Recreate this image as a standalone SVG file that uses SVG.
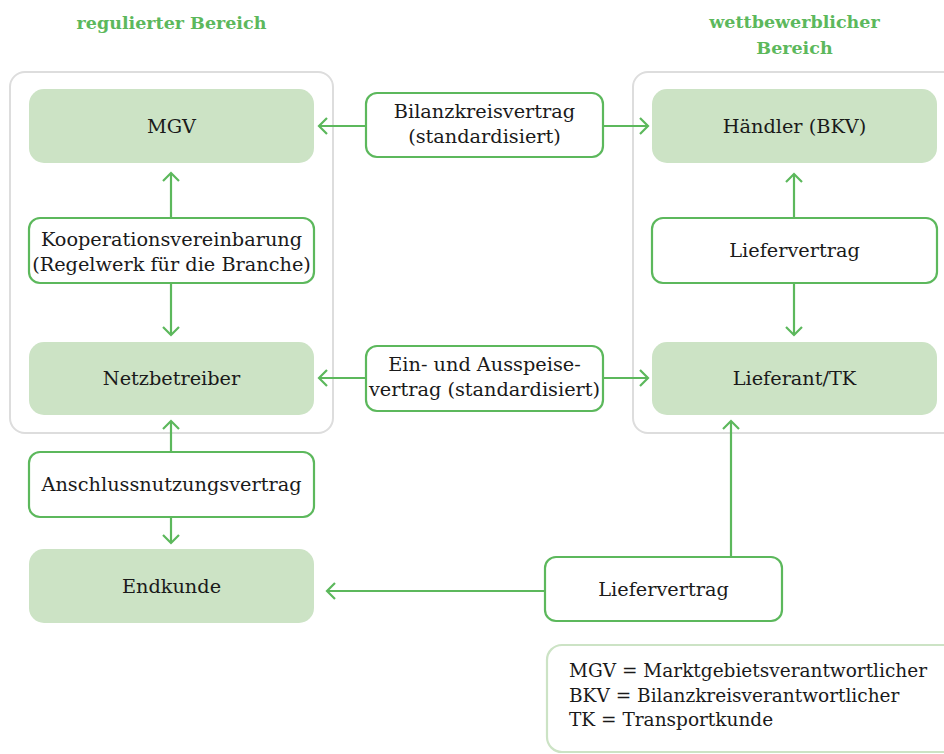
<svg xmlns="http://www.w3.org/2000/svg" width="944" height="754" viewBox="0 0 944 754">
<style>
text{font-family:"DejaVu Serif","Liberation Serif",serif;fill:#1a1a1a;font-size:19.3px;text-anchor:middle}
.title{font-weight:bold;fill:#5cb85c;font-size:17.5px}
.legend{text-anchor:start;font-size:18.5px}
.group{fill:#fff;stroke:#dddddd;stroke-width:2}
.node{fill:#cce3c5;stroke:none}
.contract{fill:#fff;stroke:#5cb85c;stroke-width:2.2}
.conn{fill:none;stroke:#5cb85c;stroke-width:2.2}
.leg{fill:#fff;stroke:#cce3c5;stroke-width:2.2}
</style>
<defs>
<marker id="ah" markerUnits="userSpaceOnUse" viewBox="-11 -11 14 22" refX="0" refY="0" markerWidth="14" markerHeight="22" orient="auto" overflow="visible">
<path d="M-8,-8 L0,0 L-8,8" fill="none" stroke="#5cb85c" stroke-width="2.2"/>
</marker>
</defs>
<rect width="944" height="754" fill="#fff"/>
<text class="title" x="171.5" y="29">regulierter Bereich</text>
<text class="title" x="794.5" y="28">wettbewerblicher</text>
<text class="title" x="794.5" y="54">Bereich</text>
<rect class="group" x="10" y="72" width="323" height="361" rx="15"/>
<rect class="group" x="633" y="72" width="330" height="361" rx="15"/>
<g id="connectors">
<line class="conn" x1="366" y1="126" x2="319" y2="126" marker-end="url(#ah)"/>
<line class="conn" x1="603" y1="126" x2="648" y2="126" marker-end="url(#ah)"/>
<line class="conn" x1="171" y1="218" x2="171" y2="173" marker-end="url(#ah)"/>
<line class="conn" x1="171" y1="283" x2="171" y2="335" marker-end="url(#ah)"/>
<line class="conn" x1="794" y1="218" x2="794" y2="174" marker-end="url(#ah)"/>
<line class="conn" x1="794" y1="283" x2="794" y2="335" marker-end="url(#ah)"/>
<line class="conn" x1="366" y1="378" x2="319" y2="378" marker-end="url(#ah)"/>
<line class="conn" x1="603" y1="378" x2="648" y2="378" marker-end="url(#ah)"/>
<line class="conn" x1="171" y1="452" x2="171" y2="421" marker-end="url(#ah)"/>
<line class="conn" x1="171" y1="517" x2="171" y2="543" marker-end="url(#ah)"/>
<line class="conn" x1="731" y1="557" x2="731" y2="421" marker-end="url(#ah)"/>
<line class="conn" x1="545" y1="591" x2="327" y2="591" marker-end="url(#ah)"/>
</g>
<g id="mgv"><rect class="node" x="29" y="89" width="285" height="74" rx="15"/><text x="171.5" y="133">MGV</text></g>
<g id="haendler"><rect class="node" x="652" y="89" width="285" height="74" rx="15"/><text x="794.5" y="133">Händler (BKV)</text></g>
<g id="bilanzkreisvertrag"><rect class="contract" x="366" y="93" width="237" height="64" rx="11"/><text x="484.5" y="118">Bilanzkreisvertrag</text><text x="484.5" y="143">(standardisiert)</text></g>
<g id="kooperation"><rect class="contract" x="29" y="218" width="285" height="65" rx="11"/><text x="171.5" y="246">Kooperationsvereinbarung</text><text x="171.5" y="271">(Regelwerk für die Branche)</text></g>
<g id="liefervertrag1"><rect class="contract" x="652" y="218" width="285" height="65" rx="11"/><text x="794.5" y="257">Liefervertrag</text></g>
<g id="netzbetreiber"><rect class="node" x="29" y="342" width="285" height="73" rx="15"/><text x="171.5" y="385">Netzbetreiber</text></g>
<g id="einausspeise"><rect class="contract" x="366" y="346" width="237" height="65" rx="11"/><text x="484.5" y="371">Ein- und Ausspeise-</text><text x="484.5" y="396">vertrag (standardisiert)</text></g>
<g id="lieferant"><rect class="node" x="652" y="342" width="285" height="73" rx="15"/><text x="794.5" y="385">Lieferant/TK</text></g>
<g id="anschluss"><rect class="contract" x="29" y="452" width="285" height="65" rx="11"/><text x="171.5" y="491">Anschlussnutzungsvertrag</text></g>
<g id="endkunde"><rect class="node" x="29" y="549" width="285" height="74" rx="15"/><text x="171.5" y="593">Endkunde</text></g>
<g id="liefervertrag2"><rect class="contract" x="545" y="557" width="237" height="64" rx="11"/><text x="663.5" y="596">Liefervertrag</text></g>
<g id="legend"><rect class="leg" x="547" y="645" width="420" height="107" rx="15"/>
<text class="legend" x="569" y="677">MGV = Marktgebietsverantwortlicher</text>
<text class="legend" x="569" y="702">BKV = Bilanzkreisverantwortlicher</text>
<text class="legend" x="569" y="726">TK = Transportkunde</text></g>
</svg>
